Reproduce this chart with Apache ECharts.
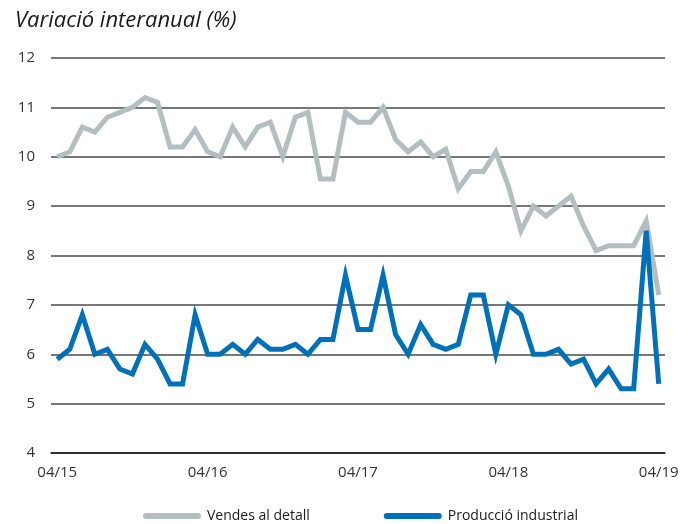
<!DOCTYPE html>
<html>
<head>
<meta charset="utf-8">
<script src="https://cdn.jsdelivr.net/npm/echarts@6/dist/echarts.min.js"></script>
<style>
html,body{margin:0;padding:0;background:#fff;}
#chart{width:694px;height:524px;}
</style>
</head>
<body>
<div id="chart"></div>
<script>
var categories = [
  "04/15","05/15","06/15","07/15","08/15","09/15","10/15","11/15","12/15","01/16","02/16","03/16",
  "04/16","05/16","06/16","07/16","08/16","09/16","10/16","11/16","12/16","01/17","02/17","03/17",
  "04/17","05/17","06/17","07/17","08/17","09/17","10/17","11/17","12/17","01/18","02/18","03/18",
  "04/18","05/18","06/18","07/18","08/18","09/18","10/18","11/18","12/18","01/19","02/19","03/19",
  "04/19"
];
var vendesAlDetall = [
  10.0, 10.1, 10.6, 10.5, 10.8, 10.9, 11.0, 11.2, 11.1, 10.2, 10.2, 10.55,
  10.1, 10.0, 10.6, 10.2, 10.6, 10.7, 10.0, 10.8, 10.9, 9.55, 9.55, 10.9,
  10.7, 10.7, 11.0, 10.35, 10.1, 10.3, 10.0, 10.15, 9.35, 9.7, 9.7, 10.1,
  9.4, 8.5, 9.0, 8.8, 9.0, 9.2, 8.6, 8.1, 8.2, 8.2, 8.2, 8.7,
  7.2
];
var produccioIndustrial = [
  5.9, 6.1, 6.8, 6.0, 6.1, 5.7, 5.6, 6.2, 5.9, 5.4, 5.4, 6.8,
  6.0, 6.0, 6.2, 6.0, 6.3, 6.1, 6.1, 6.2, 6.0, 6.3, 6.3, 7.6,
  6.5, 6.5, 7.6, 6.4, 6.0, 6.6, 6.2, 6.1, 6.2, 7.2, 7.2, 6.0,
  7.0, 6.8, 6.0, 6.0, 6.1, 5.8, 5.9, 5.4, 5.7, 5.3, 5.3, 8.5,
  5.4
];
var seriesNames = ["Vendes al detall", "Producció industrial"];
var titleText = "Variació interanual (%)";

var chart = echarts.init(document.getElementById('chart'), null, {renderer: 'canvas'});
var pill = 'path://M3,0 L55,0 A3,3 0 0 1 55,6 L3,6 A3,3 0 0 1 3,0 Z';
chart.setOption({
  animation: false,
  backgroundColor: '#fff',
  title: {
    text: titleText,
    left: 10,
    top: 5,
    textStyle: {fontFamily: 'Open Sans', fontStyle: 'italic', fontWeight: 'normal', fontSize: 22, color: '#1a1a1a'}
  },
  grid: {left: 51, right: 29, top: 58, bottom: 71, containLabel: false},
  legend: {
    left: 138,
    top: 504,
    itemWidth: 58,
    itemHeight: 6,
    itemGap: 74,
    textStyle: {fontFamily: 'Open Sans', fontSize: 14, color: '#1a1a1a', padding: [0,0,0,1]},
    data: [
      {name: seriesNames[0], icon: pill},
      {name: seriesNames[1], icon: pill}
    ]
  },
  xAxis: {
    type: 'category',
    data: categories,
    boundaryGap: true,
    axisLine: {lineStyle: {color: '#1a1a1a', width: 1.5}},
    axisTick: {inside: true, length: 6, interval: 11, lineStyle: {color: '#1a1a1a', width: 1}},
    axisLabel: {interval: 11, margin: 12, fontFamily: 'Open Sans', fontSize: 15, color: '#333'},
    splitLine: {show: false}
  },
  yAxis: {
    type: 'value',
    min: 4, max: 12, interval: 1,
    axisLine: {show: false},
    axisTick: {show: false},
    axisLabel: {margin: 16, fontFamily: 'Open Sans', fontSize: 15, color: '#333'},
    splitLine: {lineStyle: {color: '#4a4a4a', width: 1.5}}
  },
  series: [
    {
      name: seriesNames[0], type: 'line', data: vendesAlDetall,
      symbol: 'none', showSymbol: false,
      lineStyle: {color: '#b4bec1', width: 5, cap: 'butt', join: 'miter'},
      itemStyle: {color: '#b4bec1'}
    },
    {
      name: seriesNames[1], type: 'line', data: produccioIndustrial,
      symbol: 'none', showSymbol: false,
      lineStyle: {color: '#0071b9', width: 5, cap: 'butt', join: 'miter'},
      itemStyle: {color: '#0071b9'}
    }
  ]
});
</script>
</body>
</html>
